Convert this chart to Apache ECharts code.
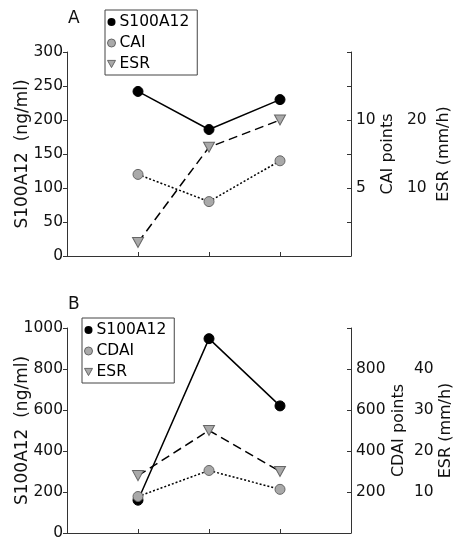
<!DOCTYPE html>
<html><head><meta charset="utf-8">
<script src="https://cdn.jsdelivr.net/npm/echarts@6/dist/echarts.min.js"></script>
<style>html,body{margin:0;padding:0;background:#fff}#c{width:455px;height:547px}</style>
</head><body><div id="c"></div>
<script>
const xPos = [1, 2, 3];
const s100A = [242, 186, 230];
const caiA = [6, 4, 7];
const esrA = [2, 16, 20];
const s100B = [160, 948, 620];
const cdaiB = [178, 305, 213];
const esrB = [14, 25, 15];
const legendA = ['S100A12', 'CAI', 'ESR'];
const legendB = ['S100A12', 'CDAI', 'ESR'];

const FONT = 'DejaVu Sans';
const AX = '#333';
const GRAY = '#a9a9a9';
const TRI = 'path://M0,0 L10,0 L5,9 Z';

function pts(v) { return xPos.map((x, i) => [x, v[i]]); }
function show(list) { return v => list.indexOf(v) >= 0 ? String(v) : ''; }

function xAx(g) {
  return { type: 'value', gridIndex: g, min: 0, max: 4, interval: 1,
    axisLine: { show: true, lineStyle: { color: AX, width: 1 } },
    axisTick: { show: true, inside: true, length: 4, lineStyle: { color: AX } },
    axisLabel: { show: false }, splitLine: { show: false } };
}
function leftAx(g, max, interval, name) {
  return { type: 'value', gridIndex: g, position: 'left', min: 0, max: max, interval: interval,
    name: name, nameLocation: 'middle', nameRotate: 90, nameGap: 36, nameMoveOverlap: false,
    nameTextStyle: { fontFamily: FONT, fontSize: 17, color: '#111' },
    axisLine: { show: true, lineStyle: { color: AX, width: 1 } },
    axisTick: { show: true, inside: false, length: 4, lineStyle: { color: AX } },
    axisLabel: { fontFamily: FONT, fontSize: 15.5, color: '#111', margin: 4, formatter: v => String(v) },
    splitLine: { show: false } };
}
function rightAx(g, max, interval, name, labels, gap) {
  return { type: 'value', gridIndex: g, position: 'right', min: 0, max: max, interval: interval,
    name: name, nameLocation: 'middle', nameRotate: 90, nameGap: gap, nameMoveOverlap: false,
    nameTextStyle: { fontFamily: FONT, fontSize: 16, color: '#111' },
    axisLine: { show: true, onZero: false, lineStyle: { color: AX, width: 1 } },
    axisTick: { show: true, inside: true, length: 4, lineStyle: { color: AX } },
    axisLabel: { fontFamily: FONT, fontSize: 15.5, color: '#111', margin: 5, formatter: show(labels) },
    splitLine: { show: false } };
}
function esrAx(g, max, interval, offset, labels, gap) {
  return { type: 'value', gridIndex: g, position: 'right', offset: offset, min: 0, max: max, interval: interval,
    name: 'ESR (mm/h)', nameLocation: 'middle', nameRotate: 90, nameGap: gap, nameMoveOverlap: false,
    nameTextStyle: { fontFamily: FONT, fontSize: 16, color: '#111' },
    axisLine: { show: false }, axisTick: { show: false },
    axisLabel: { fontFamily: FONT, fontSize: 15.5, color: '#111', margin: 5, formatter: show(labels) },
    splitLine: { show: false } };
}
function ser(name, xi, yi, data, kind) {
  const base = { name: name, type: 'line', xAxisIndex: xi, yAxisIndex: yi, data: pts(data), z: 3 };
  if (kind === 0) return Object.assign(base, { symbol: 'circle', symbolSize: 10,
    itemStyle: { color: '#000', borderColor: '#000', borderWidth: 1 },
    lineStyle: { color: '#000', width: 1.5, type: 'solid' } });
  if (kind === 1) return Object.assign(base, { symbol: 'circle', symbolSize: 10,
    itemStyle: { color: GRAY, borderColor: '#666', borderWidth: 1 },
    lineStyle: { color: '#000', width: 1.5, type: [2, 2] } });
  return Object.assign(base, { symbol: TRI, symbolSize: [11, 10],
    itemStyle: { color: GRAY, borderColor: '#666', borderWidth: 1 },
    lineStyle: { color: '#000', width: 1.5, type: [9, 5] } });
}
function legend(names, left, top) {
  return { orient: 'vertical', left: left, top: top,
    itemWidth: 8, itemHeight: 8, itemGap: 5, padding: [4, 8, 3, 2],
    borderColor: '#444', borderWidth: 1, backgroundColor: '#fff',
    textStyle: { fontFamily: FONT, fontSize: 15.5, color: '#000', lineHeight: 16, padding: [0, 0, 0, -1] },
    data: [
      { name: names[0], icon: 'circle', itemStyle: { color: '#000', borderWidth: 0 } },
      { name: names[1], icon: 'circle', itemStyle: { color: GRAY, borderColor: '#666', borderWidth: 1 } },
      { name: names[2], icon: TRI, itemStyle: { color: GRAY, borderColor: '#666', borderWidth: 1 } }
    ] };
}

const chart = echarts.init(document.getElementById('c'), null, { renderer: 'canvas' });
chart.setOption({
  animation: false,
  backgroundColor: '#fff',
  title: [
    { text: 'A', left: 63, top: 5, textStyle: { fontFamily: FONT, fontSize: 17, fontWeight: 'normal', color: '#111' } },
    { text: 'B', left: 63, top: 291, textStyle: { fontFamily: FONT, fontSize: 17, fontWeight: 'normal', color: '#111' } }
  ],
  grid: [
    { left: 67, right: 104, top: 52, height: 204, containLabel: false, outerBoundsMode: 'none' },
    { left: 67, right: 104, top: 328, height: 205, containLabel: false, outerBoundsMode: 'none' }
  ],
  legend: [legend(legendA, 105, 10), legend(legendB, 82, 318)],
  xAxis: [xAx(0), xAx(1)],
  yAxis: [
    leftAx(0, 300, 50, 'S100A12  (ng/ml)'),
    rightAx(0, 15, 2.5, 'CAI points', [5, 10], 29),
    esrAx(0, 30, 10, 51, [10, 20], 34),
    leftAx(1, 1000, 200, 'S100A12  (ng/ml)'),
    rightAx(1, 1000, 200, 'CDAI points', [200, 400, 600, 800], 40),
    esrAx(1, 50, 10, 58, [10, 20, 30, 40], 29)
  ],
  series: [
    ser('S100A12', 0, 0, s100A, 0),
    ser('CAI', 0, 1, caiA, 1),
    ser('ESR', 0, 2, esrA, 2),
    ser('S100A12', 1, 3, s100B, 0),
    ser('CDAI', 1, 4, cdaiB, 1),
    ser('ESR', 1, 5, esrB, 2)
  ]
});
</script></body></html>
